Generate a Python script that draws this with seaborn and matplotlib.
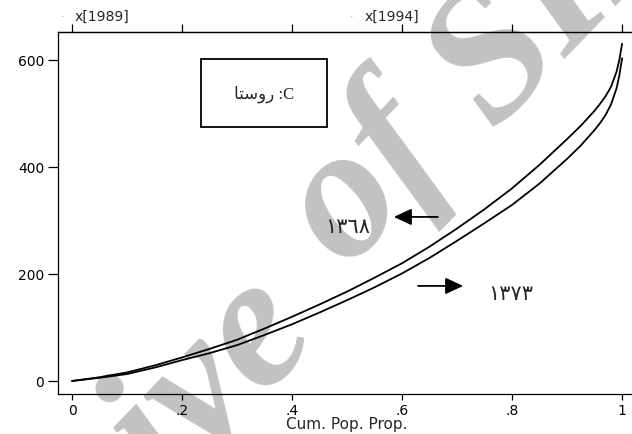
import numpy as np
import pandas as pd
import seaborn as sns
import matplotlib
matplotlib.use("Agg")
import matplotlib.pyplot as plt
from matplotlib.patches import Rectangle

# Generalized Lorenz curves of rural expenditure, 1368 (1989) and 1373 (1994)
pop_share = [0, 0.05, 0.1, 0.15, 0.2, 0.25, 0.3, 0.35, 0.4, 0.45, 0.5, 0.55,
             0.6, 0.65, 0.7, 0.75, 0.8, 0.85, 0.9, 0.925, 0.95, 0.96, 0.97,
             0.98, 0.99, 0.995, 1.0]
glc_1368 = [0, 7, 16, 29, 44, 60, 77, 98, 120, 143, 167, 193,
            220, 251, 285, 321, 360, 404, 452, 477, 505, 518, 532,
            550, 578, 600, 630]
glc_1373 = [0, 6, 13, 25, 39, 52, 67, 86, 106, 128, 151, 175,
            201, 230, 262, 295, 329, 369, 415, 440, 469, 482, 497,
            517, 547, 571, 603]

x_ticks = [0, 0.2, 0.4, 0.6, 0.8, 1.0]
x_tick_labels = ["0", ".2", ".4", ".6", ".8", "1"]
y_ticks = [0, 200, 400, 600]
series_names = ["x[1989]", "x[1994]"]

df = pd.DataFrame({
    "p": pop_share * 2,
    "glc": glc_1368 + glc_1373,
    "year": [series_names[0]] * len(pop_share) + [series_names[1]] * len(pop_share),
})

sns.set_theme(style="ticks")
plt.rcParams["font.family"] = ["DejaVu Sans"]

fig = plt.figure(figsize=(6.32, 4.35), dpi=100)
ax = fig.add_axes([58 / 632, 1 - 395 / 435, 1 - 58 / 632, (395 - 33) / 435])
ax.patch.set_alpha(0)

# faint archive stamp behind the plot, one word at a time
stamp = dict(fontsize=135, color="#c2c2c2", family="Liberation Serif",
             style="italic", weight="bold", rotation=46,
             rotation_mode="anchor", va="baseline", zorder=-1)
fig.text(0.513, 0.207, "Archive", ha="right", **stamp)
fig.text(0.547, 0.382, "of", ha="left", **stamp)
fig.text(0.781, 0.701, "SID", ha="left", **stamp)

sns.lineplot(data=df, x="p", y="glc", units="year", estimator=None,
             color="black", lw=1.3, ax=ax, legend=False, sort=False)

ax.set_xlim(-0.0255, 1.018)
ax.set_ylim(-24.3, 652)
ax.set_xticks(x_ticks)
ax.set_xticklabels(x_tick_labels)
ax.set_yticks(y_ticks)
ax.set_xlabel("")
ax.set_ylabel("")
ax.tick_params(axis="both", colors="black", labelsize=10, width=0.9)
ax.tick_params(axis="y", length=7, pad=3)
ax.tick_params(axis="x", length=4.5, pad=2)
for s in ["left", "bottom", "top"]:
    ax.spines[s].set_visible(True)
    ax.spines[s].set_color("black")
    ax.spines[s].set_linewidth(0.9)
ax.spines["right"].set_visible(False)

top = ax.secondary_xaxis("top")
top.set_xticks(x_ticks)
top.set_xticklabels([])
top.tick_params(axis="x", length=6, width=0.9, colors="black")
top.spines["top"].set_linewidth(0.9)

ax.text(0.5, -0.082, "Cum. Pop. Prop.", transform=ax.get_xaxis_transform(),
        ha="center", va="center", fontsize=11)

# series keys along the top edge
for name, xp in zip(series_names, [0.0, 0.527]):
    ax.text(xp + 0.005, 1.045, name, transform=ax.get_xaxis_transform(),
            ha="left", va="center", fontsize=10)
    ax.text(xp - 0.018, 1.045, "\u00b7", transform=ax.get_xaxis_transform(),
            ha="center", va="center", fontsize=8, color="#999999")

# label box
ax.add_patch(Rectangle((0.2345, 474.7), 0.229, 127.1, fill=False,
                       edgecolor="black", lw=1.3, zorder=4))
ax.text(0.349, 538, "\uFE8E\uFE98\uFEB3\uFEED\uFEAD :C",
        family=["Liberation Serif", "DejaVu Sans"], fontsize=12,
        ha="center", va="center", zorder=5)

# year annotations
arrow = dict(arrowstyle="-|>,head_length=0.9,head_width=0.42",
             color="black", lw=1.3, shrinkA=0, shrinkB=0)
ax.annotate("", xy=(0.585, 306.5), xytext=(0.665, 306.5), arrowprops=arrow)
ax.text(0.502, 289, "\u0661\u0663\u0666\u0668", fontsize=15,
        ha="center", va="center")
ax.annotate("", xy=(0.711, 177.6), xytext=(0.629, 177.6), arrowprops=arrow)
ax.text(0.798, 164, "\u0661\u0663\u0667\u0663", fontsize=15,
        ha="center", va="center")

fig.savefig("out.png", dpi=100)
